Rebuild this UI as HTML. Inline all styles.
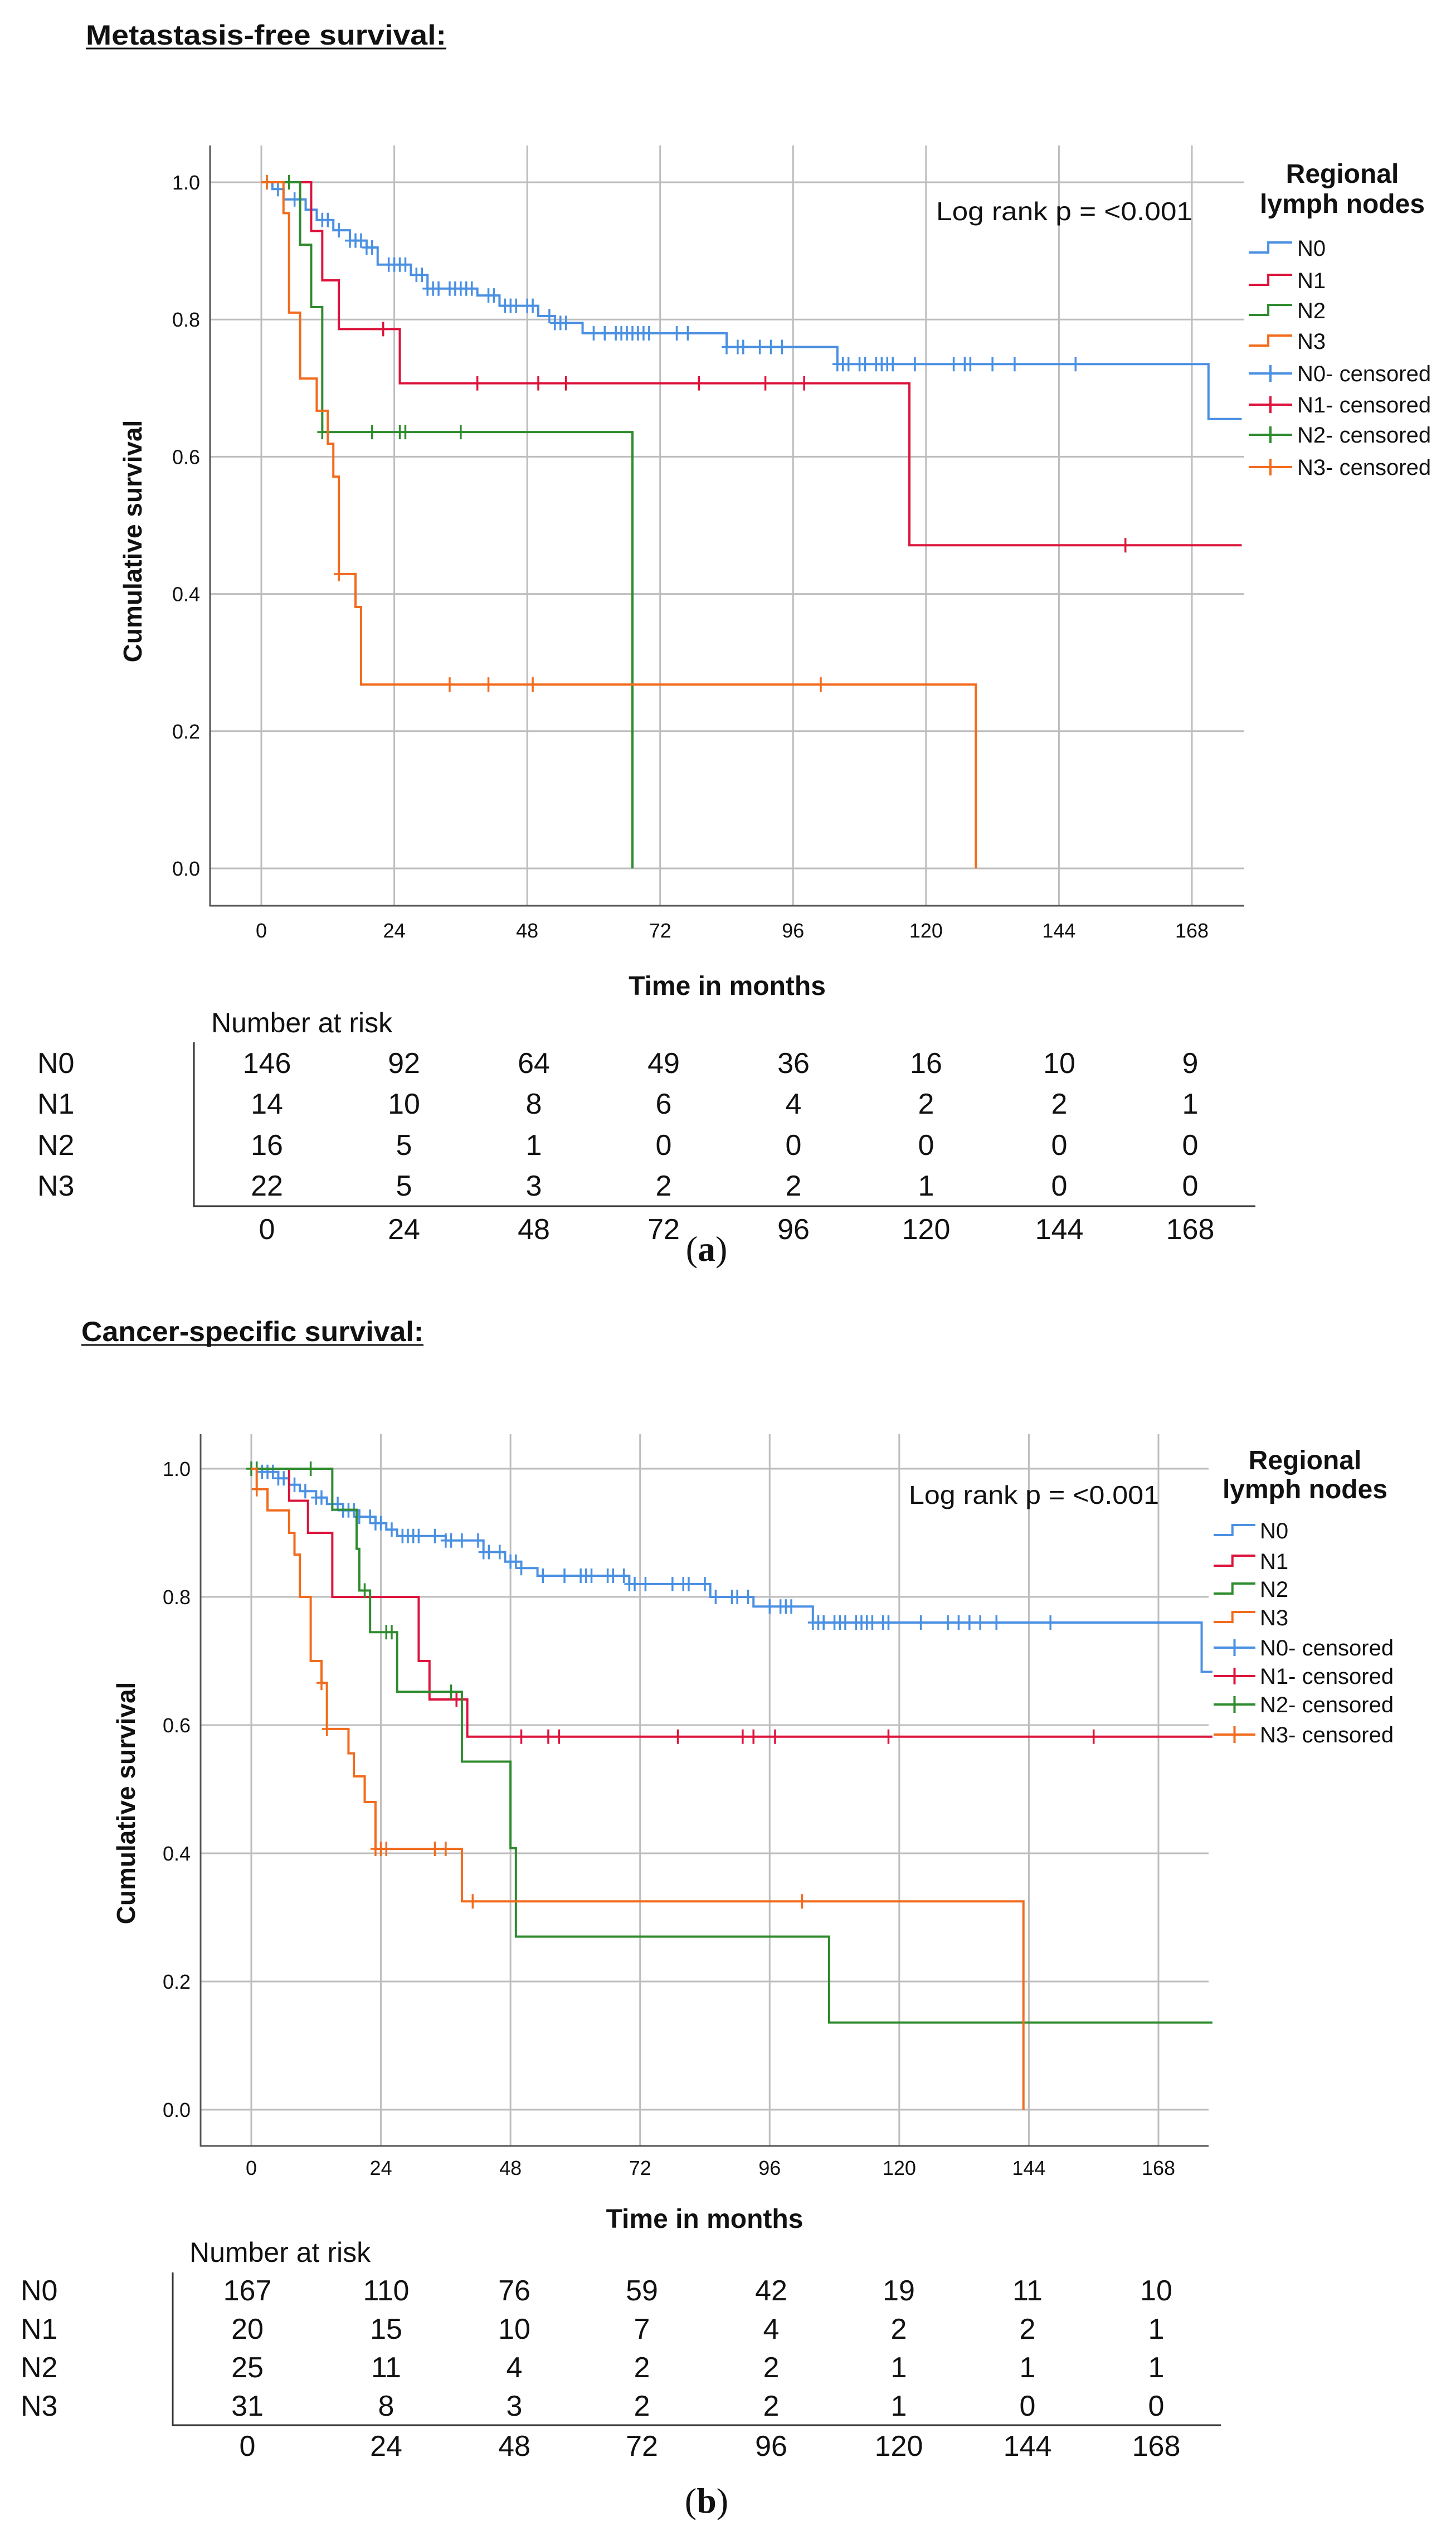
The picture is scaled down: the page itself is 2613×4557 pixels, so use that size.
<!DOCTYPE html>
<html><head><meta charset="utf-8">
<style>
html,body{margin:0;padding:0;background:#fff;}
svg{display:block;}
text{font-family:"Liberation Sans",sans-serif;fill:#111;}
</style></head>
<body>
<svg id="page" xmlns="http://www.w3.org/2000/svg" width="2613" height="4557" viewBox="0 0 2613 4557"></svg>
<script>
// ---------- DATA ----------
const groups = ["N0","N1","N2","N3"];
const xTicks = [0,24,48,72,96,120,144,168];
const yTicks = [0.0,0.2,0.4,0.6,0.8,1.0];

// Chart A: metastasis-free survival (step times in months, survival after step)
const aN0t = [0,2,4,8,10,13,16,19,21,27,30,39,43,50,53,58,84,104,171];
const aN0s = [1.0,0.99,0.975,0.96,0.945,0.93,0.915,0.905,0.88,0.865,0.845,0.835,0.82,0.805,0.795,0.78,0.76,0.735,0.655];
const aN1t = [0,9,11,14,25,117];
const aN1s = [1.0,0.929,0.857,0.786,0.707,0.471];
const aN2t = [0,7,9,11,67];
const aN2s = [1.0,0.909,0.818,0.636,0.0];
const aN3t = [0,4,5,7,10,12,13,14,17,18,129];
const aN3s = [1.0,0.955,0.81,0.714,0.667,0.619,0.571,0.429,0.381,0.268,0.0];
const aN0c = [3,6,9,11,12,14,16,17,18,19,20,23,24,25,26,28,29,30,31,32,34,35,36,37,38,41,42,44,45,46,48,49,52,53,54,55,60,62,64,65,66,67,68,69,70,75,77,84,86,87,90,92,94,104,105,106,108,109,111,112,113,114,118,125,127,128,132,136,147];
const aN1c = [22,39,50,55,79,91,98,156];
const aN2c = [1,5,11,20,25,26,36];
const aN3c = [1,14,34,41,49,101];
const aEnd = [177,177,67,129];
const aRiskN0 = [146,92,64,49,36,16,10,9];
const aRiskN1 = [14,10,8,6,4,2,2,1];
const aRiskN2 = [16,5,1,0,0,0,0,0];
const aRiskN3 = [22,5,3,2,2,1,0,0];

// Chart B: cancer-specific survival
const bN0t = [0,2,5,7,9,12,14,17,20,23,25,27,36,43,47,50,53,70,85,93,104,176];
const bN0s = [1.0,0.995,0.985,0.975,0.965,0.955,0.945,0.935,0.925,0.915,0.905,0.895,0.888,0.87,0.855,0.845,0.833,0.82,0.80,0.785,0.76,0.683];
const bN1t = [0,7,10.5,15,31,33,40];
const bN1s = [1.0,0.95,0.90,0.80,0.70,0.64,0.582];
const bN2t = [0,15,19.5,20,22,27,39,48,49,107];
const bN2s = [1.0,0.936,0.875,0.81,0.745,0.652,0.543,0.408,0.27,0.136];
const bN3t = [0,1,3,7,8,9,11,13,14,18,19,21,23,39,143];
const bN3s = [1.0,0.968,0.935,0.90,0.866,0.80,0.70,0.666,0.594,0.556,0.52,0.48,0.407,0.325,0.0];
const bN0c = [1,2,3,4,5,6,8,10,12,13,15,16,17,18,19,20,22,23,24,26,28,29,30,31,34,36,37,39,42,43,44,46,48,49,50,54,58,61,62,63,66,67,69,70,71,73,78,80,81,84,86,89,90,92,96,98,99,100,104,105,106,108,109,110,112,113,114,115,117,118,124,129,131,133,135,138,148];
const bN1c = [22,38,50,55,57,79,91,93,97,118,156];
const bN2c = [0,1,11,21,25,26,37];
const bN3c = [1,13,14,23,24,25,34,36,41,102];
const bEnd = [178,178,178,143];
const bRiskN0 = [167,110,76,59,42,19,11,10];
const bRiskN1 = [20,15,10,7,4,2,2,1];
const bRiskN2 = [25,11,4,2,2,1,1,1];
const bRiskN3 = [31,8,3,2,2,1,0,0];

const colors = ["#4a90e2","#dc143c","#2e8b2e","#f26b1d"];
const NS = "http://www.w3.org/2000/svg";
const svg = document.getElementById("page");

function mk(tag, attrs, parent, txt){
  const e = document.createElementNS(NS, tag);
  for (const k in attrs) e.setAttribute(k, attrs[k]);
  if (txt !== undefined) e.textContent = txt;
  (parent || svg).appendChild(e);
  return e;
}

function drawChart(cfg){
  const g = mk("g", {});
  
  
  const X = m => cfg.x0 + (cfg.x168 - cfg.x0) * m / 168;
  const Y = s => cfg.y0 + (cfg.y1 - cfg.y0) * s;

  const t = mk("text", {x: cfg.titleX, y: cfg.titleY, "font-size": 50, "font-weight": "bold", textLength: cfg.titleW, lengthAdjust: "spacingAndGlyphs"}, g, cfg.title);
  
  
  const u = mk("line", {x1: cfg.titleX, x2: cfg.titleX + cfg.titleW, y1: cfg.titleY + 7, y2: cfg.titleY + 7, stroke: "#111", "stroke-width": 3}, g);
  
  

  xTicks.forEach(v => {
    const l = mk("line", {x1: X(v), x2: X(v), y1: cfg.top, y2: cfg.bottom, stroke: "#bdbdbd", "stroke-width": 3}, g);
    
    
    const tl = mk("text", {x: X(v), y: cfg.xTickY, "font-size": 36, "text-anchor": "middle", fill: "#222"}, g, String(v));
    
    
  });
  yTicks.forEach(v => {
    const l = mk("line", {x1: cfg.left, x2: cfg.right, y1: Y(v), y2: Y(v), stroke: "#bdbdbd", "stroke-width": 3}, g);
    
    
    const tl = mk("text", {x: cfg.left - 18, y: Y(v) + 13, "font-size": 36, "text-anchor": "end", fill: "#222"}, g, v.toFixed(1));
    
    
  });
  const ax = mk("path", {d: `M${cfg.left},${cfg.top} V${cfg.bottom} H${cfg.right}`, fill: "none", stroke: "#555", "stroke-width": 3}, g);
  
  

  const xt = mk("text", {x: (cfg.left + cfg.right) / 2, y: cfg.xTitleY, "font-size": 48, "font-weight": "bold", "text-anchor": "middle"}, g, "Time in months");
  
  
  const yt = mk("text", {x: 0, y: 0, "font-size": 46, "font-weight": "bold", "text-anchor": "middle", transform: `translate(${cfg.yTitleX},${cfg.yTitleY}) rotate(-90)`}, g, "Cumulative survival");
  
  

  const lr = mk("text", {x: cfg.lrX, y: cfg.lrY, "font-size": 46, textLength: cfg.lrW, lengthAdjust: "spacingAndGlyphs"}, g, "Log rank p = <0.001");
  
  

  cfg.series.forEach((s, i) => {
    let d = `M${X(s.t[0])},${Y(s.s[0])}`;
    for (let k = 1; k < s.t.length; k++) {
      d += ` H${X(s.t[k])} V${Y(s.s[k])}`;
    }
    d += ` H${X(s.end)}`;
    const p = mk("path", {d: d, fill: "none", stroke: colors[i], "stroke-width": 4}, g);
    
    
    s.c.forEach(m => {
      let sv = s.s[0];
      for (let k = 0; k < s.t.length; k++) if (s.t[k] <= m) sv = s.s[k];
      const cx = X(m), cy = Y(sv);
      const c = mk("path", {d: `M${cx},${cy - 13} V${cy + 13} M${cx - 9},${cy} H${cx + 9}`, stroke: colors[i], "stroke-width": 3.5, fill: "none"}, g);
      
      
    });
  });

  const lt1 = mk("text", {x: cfg.legCX, y: cfg.legY1, "font-size": 48, "font-weight": "bold", "text-anchor": "middle"}, g, "Regional");
  
  
  const lt2 = mk("text", {x: cfg.legCX, y: cfg.legY2, "font-size": 48, "font-weight": "bold", "text-anchor": "middle"}, g, "lymph nodes");
  
  
  const labels = ["N0","N1","N2","N3","N0- censored","N1- censored","N2- censored","N3- censored"];
  labels.forEach((lab, j) => {
    const ci = j % 4, y = cfg.legRows[j];
    const lx = cfg.legLX, lw = cfg.legLW;
    let d;
    if (j < 4) d = `M${lx},${y + 8} H${lx + lw * 0.45} V${y - 10} H${lx + lw}`;
    else d = `M${lx},${y} H${lx + lw} M${lx + lw / 2},${y - 15} V${y + 15}`;
    const ls = mk("path", {d: d, stroke: colors[ci], "stroke-width": 4, fill: "none"}, g);
    
    
    const tx = mk("text", {x: cfg.legTX, y: y + 14, "font-size": 40, fill: "#222"}, g, lab);
    
    
  });

  const nr = mk("text", {x: cfg.nrX, y: cfg.nrY, "font-size": 50}, g, "Number at risk");
  
  
  cfg.risk.forEach((row, r) => {
    const rl = mk("text", {x: cfg.rowLX, y: cfg.rowY[r] + 18, "font-size": 52}, g, groups[r]);
    
    
    row.forEach((v, c) => {
      const tv = mk("text", {x: cfg.colX[c], y: cfg.rowY[r] + 18, "font-size": 52, "text-anchor": "middle"}, g, String(v));
      
      
    });
  });
  xTicks.forEach((v, c) => {
    const tv = mk("text", {x: cfg.colX[c], y: cfg.botY + 18, "font-size": 52, "text-anchor": "middle"}, g, String(v));
    
    
  });
  const tb = mk("path", {d: `M${cfg.tblL},${cfg.tblT} V${cfg.tblB} H${cfg.tblR}`, stroke: "#333", "stroke-width": 3, fill: "none"}, g);
  
  

  const cap = mk("text", {x: 1268, y: cfg.capY, "font-size": 64, "text-anchor": "middle", style: "font-family:'Liberation Serif',serif"}, g);
  
  
  mk("tspan", {}, cap, "(");
  mk("tspan", {"font-weight": "bold"}, cap, cfg.cap);
  mk("tspan", {}, cap, ")");
}

drawChart({
  id: "metastasis-free", title: "Metastasis-free survival:", titleX: 154, titleY: 80, titleW: 647,
  left: 377, right: 2233, top: 261, bottom: 1625,
  x0: 469, x168: 2139, y0: 1558, y1: 327,
  xTickY: 1682, xTitleY: 1785, yTitleX: 254, yTitleY: 971,
  lrX: 1680, lrY: 395, lrW: 460,
  legCX: 2409, legY1: 328, legY2: 382, legLX: 2241, legLW: 78, legTX: 2328,
  legRows: [445,503,557,612,670,726,780,838],
  series: [
    {t: aN0t, s: aN0s, c: aN0c, end: aEnd[0]},
    {t: aN1t, s: aN1s, c: aN1c, end: aEnd[1]},
    {t: aN2t, s: aN2s, c: aN2c, end: aEnd[2]},
    {t: aN3t, s: aN3s, c: aN3c, end: aEnd[3]}
  ],
  nrX: 379, nrY: 1852, rowLX: 67, rowY: [1907,1980,2054,2127], botY: 2205,
  colX: [479,725,958,1191,1424,1662,1901,2136],
  risk: [aRiskN0, aRiskN1, aRiskN2, aRiskN3],
  tblL: 348, tblT: 1870, tblB: 2164, tblR: 2253,
  capY: 2262, cap: "a"
});

drawChart({
  id: "cancer-specific", title: "Cancer-specific survival:", titleX: 146, titleY: 2406, titleW: 614,
  left: 360, right: 2169, top: 2573, bottom: 3850,
  x0: 451, x168: 2079, y0: 3785, y1: 2635,
  xTickY: 3902, xTitleY: 3997, yTitleX: 242, yTitleY: 3235,
  lrX: 1631, lrY: 2698, lrW: 449,
  legCX: 2342, legY1: 2636, legY2: 2688, legLX: 2178, legLW: 75, legTX: 2261,
  legRows: [2746,2801,2851,2902,2956,3007,3058,3112],
  series: [
    {t: bN0t, s: bN0s, c: bN0c, end: bEnd[0]},
    {t: bN1t, s: bN1s, c: bN1c, end: bEnd[1]},
    {t: bN2t, s: bN2s, c: bN2c, end: bEnd[2]},
    {t: bN3t, s: bN3s, c: bN3c, end: bEnd[3]}
  ],
  nrX: 340, nrY: 4058, rowLX: 37, rowY: [4109,4178,4247,4316], botY: 4388,
  colX: [444,693,923,1152,1384,1613,1844,2075],
  risk: [bRiskN0, bRiskN1, bRiskN2, bRiskN3],
  tblL: 310, tblT: 4077, tblB: 4351, tblR: 2191,
  capY: 4508, cap: "b"
});
</script>
</body></html>
